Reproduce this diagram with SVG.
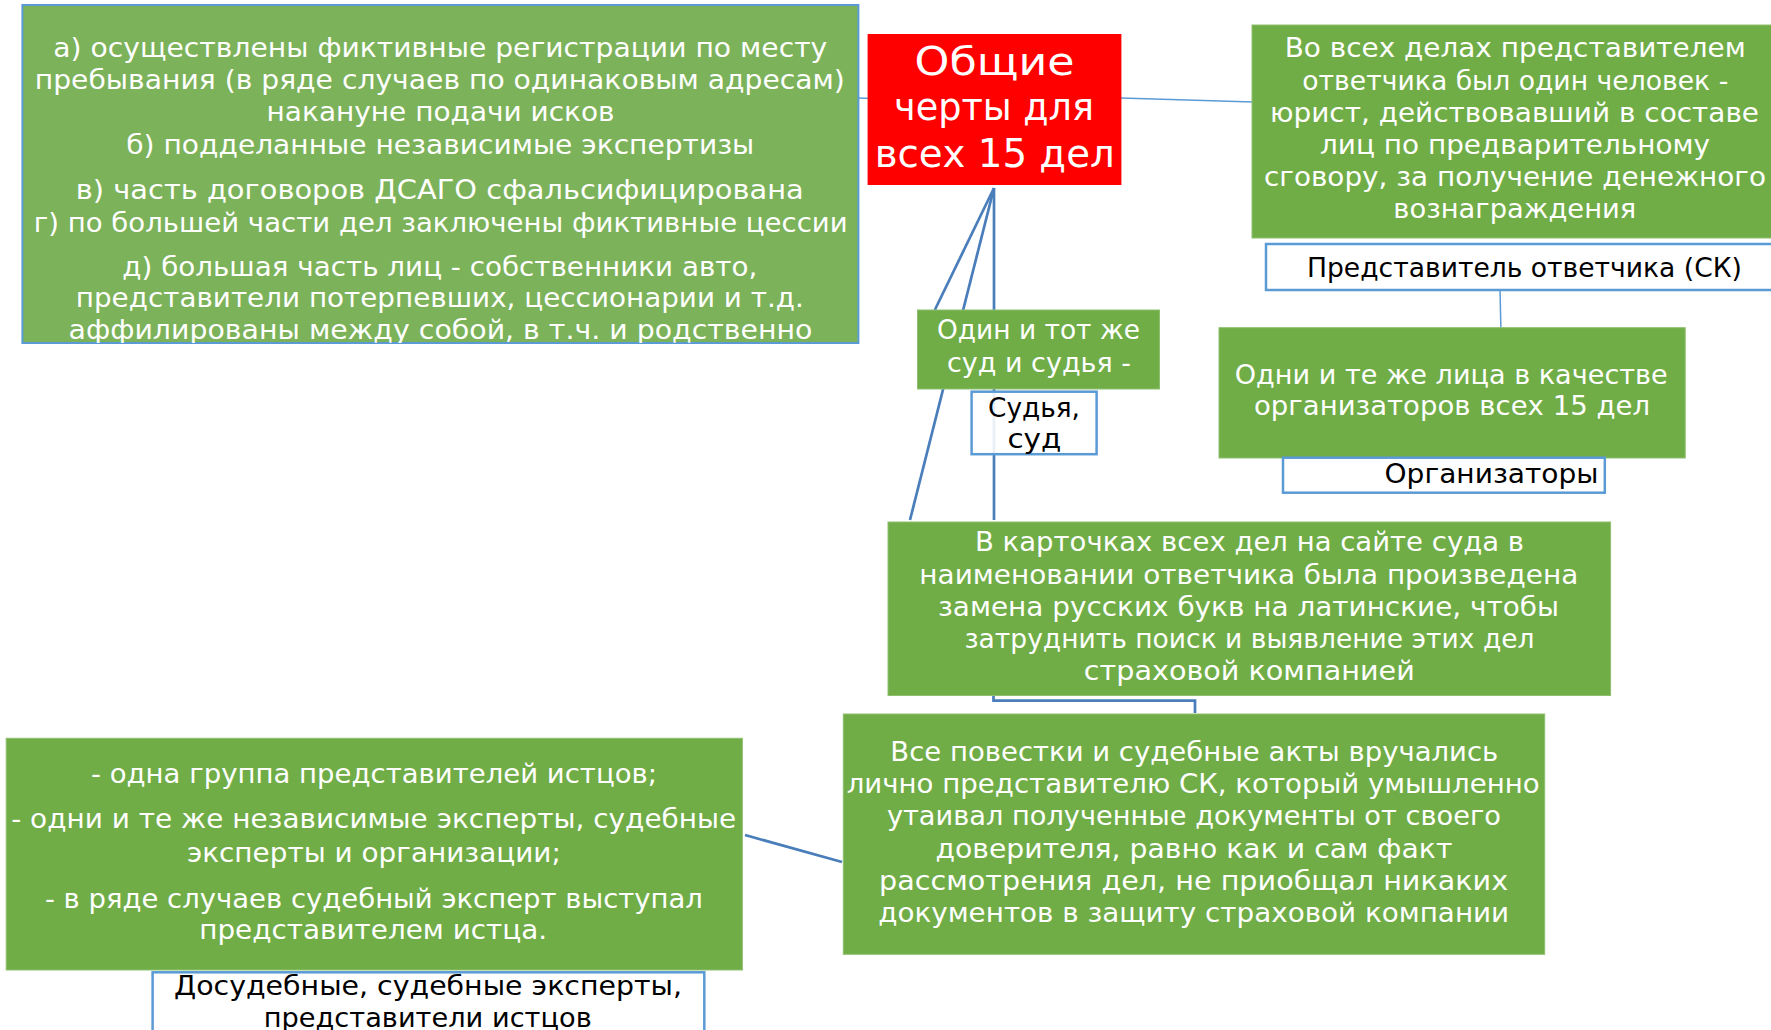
<svg xmlns="http://www.w3.org/2000/svg" width="1771" height="1030" viewBox="0 0 1771 1030">
<style>
.g{fill:#70AD47;stroke:#8DBF6E;stroke-width:1}
.lb{fill:#7CB25A;stroke:#5B9BD5;stroke-width:2}
.w{fill:#FFFFFF;stroke:#5B9BD5;stroke-width:2.5}
.t{font-family:"DejaVu Sans","Liberation Sans",sans-serif;font-size:27px;fill:#FFFFFF}
.k{font-family:"DejaVu Sans","Liberation Sans",sans-serif;font-size:27px;fill:#000000}
.r{font-family:"DejaVu Sans","Liberation Sans",sans-serif;font-size:39px;fill:#FFFFFF}
.c{fill:none;stroke:#4A7EBB;stroke-width:2.7}
.c2{fill:none;stroke:#5B9BD5;stroke-width:1.5}
</style>
<defs>
<clipPath id="clipLeft"><rect x="22" y="5" width="837" height="338"/></clipPath>
</defs>
<g id="connectors">
<line class="c2" x1="858" y1="98" x2="872" y2="98.5"/>
<line class="c2" x1="1121" y1="98" x2="1253" y2="102"/>
<line class="c2" x1="1500" y1="290" x2="1501" y2="333" stroke-width="1"/>
<line class="c" x1="994" y1="188" x2="934.8" y2="310"/>
<line class="c" x1="994" y1="188" x2="910" y2="520"/>
<line class="c" x1="994" y1="188" x2="994" y2="520"/>
<polyline class="c" stroke-width="2.5" points="993.5,696 993.5,700.7 1195,700.7 1195,713"/>
<line class="c" stroke-width="2.5" x1="745" y1="835" x2="842" y2="862"/>
</g>
<g id="node-left-top">
<rect class="lb" x="22.4" y="5" width="836" height="338"/>
<g clip-path="url(#clipLeft)">
<text class="t" x="53.3" y="57" textLength="774" lengthAdjust="spacingAndGlyphs">а) осуществлены фиктивные регистрации по месту</text>
<text class="t" x="34.8" y="88.5" textLength="810" lengthAdjust="spacingAndGlyphs">пребывания (в ряде случаев по одинаковым адресам)</text>
<text class="t" x="266.6" y="120.7" textLength="348" lengthAdjust="spacingAndGlyphs">накануне подачи исков</text>
<text class="t" x="126.3" y="154" textLength="628" lengthAdjust="spacingAndGlyphs">б) подделанные независимые экспертизы</text>
<text class="t" x="75.8" y="199.3" textLength="728" lengthAdjust="spacingAndGlyphs">в) часть договоров ДСАГО сфальсифицирована</text>
<text class="t" x="33.7" y="231.7" textLength="814" lengthAdjust="spacingAndGlyphs">г) по большей части дел заключены фиктивные цессии</text>
<text class="t" x="122.3" y="276" textLength="635" lengthAdjust="spacingAndGlyphs">д) большая часть лиц -  собственники авто,</text>
<text class="t" x="75.8" y="307.3" textLength="728" lengthAdjust="spacingAndGlyphs">представители потерпевших, цессионарии и т.д.</text>
<text class="t" x="68.5" y="339.3" textLength="744" lengthAdjust="spacingAndGlyphs">аффилированы между собой, в т.ч. и родственно</text>
</g>
</g>
<g id="node-center">
<rect x="867.6" y="34" width="253.8" height="151" fill="#FF0000"/>
<text class="r" x="914.6" y="75" textLength="160" lengthAdjust="spacingAndGlyphs">Общие</text>
<text class="r" x="894" y="120" textLength="200" lengthAdjust="spacingAndGlyphs">черты для</text>
<text class="r" x="874.7" y="166.7" textLength="240" lengthAdjust="spacingAndGlyphs">всех 15 дел</text>
</g>
<g id="node-right-top">
<rect class="g" x="1252" y="25" width="530" height="213"/>
<text class="t" x="1284.7" y="57.3" textLength="461" lengthAdjust="spacingAndGlyphs">Во всех делах представителем</text>
<text class="t" x="1302.3" y="89.5" textLength="426" lengthAdjust="spacingAndGlyphs">ответчика был один человек -</text>
<text class="t" x="1270" y="121.7" textLength="489" lengthAdjust="spacingAndGlyphs">юрист, действовавший в составе</text>
<text class="t" x="1320" y="154" textLength="390" lengthAdjust="spacingAndGlyphs">лиц по предварительному</text>
<text class="t" x="1264" y="186" textLength="502" lengthAdjust="spacingAndGlyphs">сговору, за получение денежного</text>
<text class="t" x="1393.3" y="218" textLength="243" lengthAdjust="spacingAndGlyphs">вознаграждения</text>
</g>
<g id="node-label-representative">
<rect class="w" x="1266" y="244" width="520" height="46"/>
<text class="k" x="1307" y="277.3" textLength="435" lengthAdjust="spacingAndGlyphs">Представитель ответчика (СК)</text>
</g>
<g id="node-court">
<rect class="g" x="917.5" y="310" width="242" height="79"/>
<text class="t" x="937" y="339.3" textLength="203" lengthAdjust="spacingAndGlyphs">Один и тот же</text>
<text class="t" x="947" y="371.7" textLength="184" lengthAdjust="spacingAndGlyphs">суд и судья -</text>
</g>
<g id="node-label-judge">
<rect class="w" x="971.6" y="391.7" width="125" height="62.5" fill-opacity="0.88"/>
<text class="k" x="988" y="416.7" textLength="92" lengthAdjust="spacingAndGlyphs">Судья,</text>
<text class="k" x="1007.4" y="448.3" textLength="54" lengthAdjust="spacingAndGlyphs">суд</text>
</g>
<g id="node-organizers">
<rect class="g" x="1219" y="327.7" width="466.2" height="130.3"/>
<text class="t" x="1234.7" y="384" textLength="433" lengthAdjust="spacingAndGlyphs">Одни и те же лица в качестве</text>
<text class="t" x="1254" y="415" textLength="396" lengthAdjust="spacingAndGlyphs">организаторов всех 15 дел</text>
</g>
<g id="node-label-organizers">
<rect class="w" x="1283" y="457.7" width="321.8" height="35"/>
<text class="k" x="1384.5" y="483.3" textLength="214" lengthAdjust="spacingAndGlyphs">Организаторы</text>
</g>
<g id="node-cards">
<rect class="g" x="888" y="522" width="722.6" height="173.5"/>
<text class="t" x="975" y="550.7" textLength="549" lengthAdjust="spacingAndGlyphs">В карточках всех дел на сайте суда в</text>
<text class="t" x="919.3" y="584" textLength="659" lengthAdjust="spacingAndGlyphs">наименовании ответчика была произведена</text>
<text class="t" x="938" y="615.5" textLength="621" lengthAdjust="spacingAndGlyphs">замена русских букв на латинские, чтобы</text>
<text class="t" x="964.5" y="647.7" textLength="570" lengthAdjust="spacingAndGlyphs">затруднить поиск и выявление этих дел</text>
<text class="t" x="1083.8" y="680" textLength="331" lengthAdjust="spacingAndGlyphs">страховой компанией</text>
</g>
<g id="node-summons">
<rect class="g" x="843.3" y="714" width="701.4" height="240.3"/>
<text class="t" x="890.3" y="761" textLength="608" lengthAdjust="spacingAndGlyphs">Все повестки и судебные акты вручались</text>
<text class="t" x="846.7" y="793.3" textLength="693" lengthAdjust="spacingAndGlyphs">лично представителю СК, который умышленно</text>
<text class="t" x="886.9" y="825" textLength="614" lengthAdjust="spacingAndGlyphs">утаивал полученные документы от своего</text>
<text class="t" x="935.4" y="857.7" textLength="517" lengthAdjust="spacingAndGlyphs">доверителя, равно как и сам факт</text>
<text class="t" x="879.1" y="890" textLength="629" lengthAdjust="spacingAndGlyphs">рассмотрения дел, не приобщал никаких</text>
<text class="t" x="878.2" y="921.7" textLength="631" lengthAdjust="spacingAndGlyphs">документов в защиту страховой компании</text>
</g>
<g id="node-experts">
<rect class="g" x="6.2" y="738.3" width="736.2" height="231.7"/>
<text class="t" x="91" y="783.3" textLength="566" lengthAdjust="spacingAndGlyphs">- одна группа представителей истцов;</text>
<text class="t" x="11.2" y="828.3" textLength="725" lengthAdjust="spacingAndGlyphs">- одни и те же независимые эксперты, судебные</text>
<text class="t" x="186.9" y="861.7" textLength="374" lengthAdjust="spacingAndGlyphs">эксперты и организации;</text>
<text class="t" x="44.9" y="907.7" textLength="658" lengthAdjust="spacingAndGlyphs">- в ряде случаев судебный эксперт выступал</text>
<text class="t" x="199.2" y="939.3" textLength="348" lengthAdjust="spacingAndGlyphs">представителем истца.</text>
</g>
<g id="node-label-experts">
<rect class="w" x="152.6" y="972.3" width="551.7" height="70"/>
<text class="k" x="174" y="995" textLength="508" lengthAdjust="spacingAndGlyphs">Досудебные, судебные эксперты,</text>
<text class="k" x="263.7" y="1026.7" textLength="328" lengthAdjust="spacingAndGlyphs">представители истцов</text>
</g>
</svg>
